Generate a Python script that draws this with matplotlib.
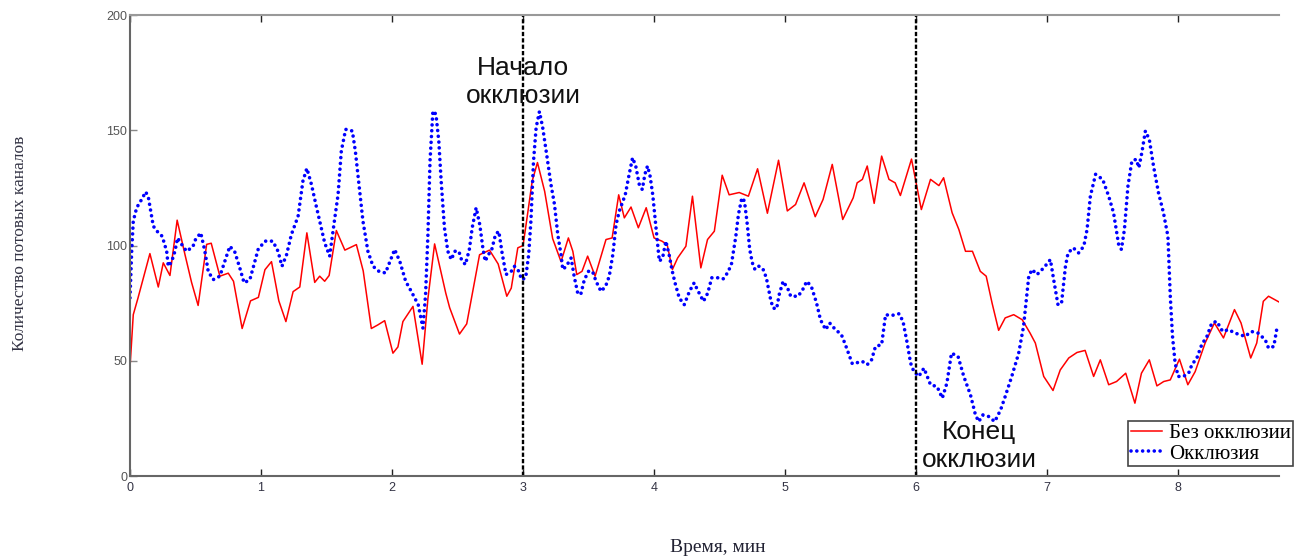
import matplotlib
matplotlib.use('Agg')
import matplotlib.pyplot as plt

# Время (мин) и количество потовых каналов
t_red = [0.0, 0.025, 0.06, 0.152, 0.216, 0.254, 0.305, 0.36, 0.42, 0.47, 0.52, 0.585, 0.62, 0.686, 0.75,
         0.79, 0.856, 0.92, 0.98, 1.03, 1.08, 1.136, 1.19, 1.245, 1.296, 1.35, 1.41, 1.448, 1.486, 1.52,
         1.575, 1.64, 1.728, 1.78, 1.842, 1.89, 1.944, 2.007, 2.045, 2.083, 2.16, 2.23, 2.274, 2.325,
         2.41, 2.44, 2.515, 2.57, 2.668, 2.744, 2.81, 2.876, 2.91, 2.96, 3.0, 3.02, 3.07, 3.11, 3.165,
         3.226, 3.29, 3.346, 3.38, 3.41, 3.45, 3.493, 3.55, 3.633, 3.68, 3.73, 3.773, 3.824, 3.88, 3.94,
         4.0, 4.06, 4.1, 4.14, 4.18, 4.243, 4.293, 4.357, 4.408, 4.46, 4.52, 4.573, 4.65, 4.72, 4.79,
         4.865, 4.95, 5.017, 5.08, 5.145, 5.23, 5.29, 5.36, 5.44, 5.52, 5.55, 5.59, 5.627, 5.68, 5.737,
         5.793, 5.84, 5.88, 5.965, 6.04, 6.11, 6.174, 6.21, 6.275, 6.326, 6.377, 6.43, 6.49, 6.535, 6.58,
         6.63, 6.68, 6.745, 6.81, 6.87, 6.91, 6.974, 7.045, 7.1, 7.165, 7.228, 7.29, 7.355, 7.406, 7.47,
         7.53, 7.6, 7.67, 7.72, 7.78, 7.838, 7.89, 7.94, 8.01, 8.074, 8.13, 8.206, 8.277, 8.346, 8.43,
         8.48, 8.554, 8.6, 8.65, 8.69, 8.77]
no_occlusion = [47, 70, 77, 96.5, 82, 92.5, 87, 111, 96, 84, 74, 100.5, 101, 86.7, 88,
                84.5, 64, 76, 77.5, 89.5, 93, 76, 67, 80, 82, 105.5, 84, 86.7, 84.5, 87,
                106.5, 98, 100.4, 89, 64, 65.5, 67.4, 53.3, 56, 67, 73.6, 48.5, 77, 100.7,
                79.4, 73, 61.6, 66, 96, 98, 92, 78, 81.5, 99, 100, 107.8, 128, 136, 123.5,
                103, 93, 103.3, 97.5, 87.4, 88.8, 95.4, 86.7, 102.6, 103.3, 122, 112, 116.7, 107.7, 116.4,
                103.3, 101.9, 100.4, 89.6, 94.6, 99.7, 121.4, 90.3, 102.6, 106.2, 130.5, 122, 123, 121.4, 133.3,
                114, 137, 115, 117.8, 127.2, 112.5, 120, 135.2, 111.3, 120.7, 127.2, 128.7, 134.5, 118.3, 138.8,
                128.7, 127.2, 121.7, 137.5, 115.6, 128.7, 126, 129.4, 114.2, 107, 97.5, 97.5, 88.8, 86.7, 75,
                63.2, 68.6, 70, 67.8, 62, 57.7, 43.2, 37.1, 46, 51.2, 53.6, 54.5, 43.2, 50.4, 39.6,
                41, 44.6, 31.6, 44.6, 50.4, 39.1, 41, 41.7, 50.7, 39.6, 45.3, 57.7, 66.4, 59.9, 72.2,
                66.4, 51.2, 57.7, 75.8, 78, 75.5]

t_blue = [0.0, 0.013, 0.025, 0.051, 0.089, 0.12, 0.14, 0.178, 0.21, 0.246, 0.28, 0.292, 0.318, 0.343,
          0.363, 0.4, 0.432, 0.48, 0.5, 0.54, 0.57, 0.597, 0.635, 0.686, 0.724, 0.762, 0.8, 0.838,
          0.871, 0.915, 0.978, 1.03, 1.09, 1.13, 1.16, 1.195, 1.232, 1.283, 1.32, 1.35, 1.385, 1.42,
          1.46, 1.486, 1.524, 1.56, 1.588, 1.613, 1.646, 1.697, 1.72, 1.753, 1.778, 1.816, 1.855, 1.9,
          1.95, 1.98, 2.02, 2.06, 2.104, 2.147, 2.2, 2.236, 2.256, 2.274, 2.29, 2.312, 2.335, 2.357,
          2.375, 2.4, 2.426, 2.452, 2.48, 2.51, 2.53, 2.56, 2.59, 2.612, 2.642, 2.67, 2.693, 2.711,
          2.735, 2.76, 2.79, 2.815, 2.84, 2.87, 2.91, 2.934, 2.965, 2.99, 3.02, 3.043, 3.06, 3.08, 3.1,
          3.125, 3.15, 3.18, 3.213, 3.24, 3.265, 3.29, 3.303, 3.33, 3.367, 3.39, 3.417, 3.44, 3.468,
          3.5, 3.53, 3.557, 3.595, 3.63, 3.658, 3.685, 3.71, 3.735, 3.78, 3.81, 3.836, 3.86, 3.887,
          3.91, 3.93, 3.95, 3.97, 3.99, 4.015, 4.04, 4.065, 4.09, 4.115, 4.136, 4.16, 4.192, 4.23,
          4.27, 4.306, 4.33, 4.377, 4.41, 4.44, 4.49, 4.527, 4.56, 4.59, 4.624, 4.644, 4.67, 4.69,
          4.713, 4.73, 4.75, 4.77, 4.8, 4.83, 4.857, 4.89, 4.908, 4.935, 4.955, 4.985, 5.02, 5.043,
          5.1, 5.14, 5.165, 5.2, 5.24, 5.27, 5.31, 5.34, 5.38, 5.43, 5.46, 5.513, 5.59, 5.627, 5.66,
          5.69, 5.737, 5.767, 5.81, 5.87, 5.9, 5.932, 5.958, 5.983, 6.02, 6.06, 6.11, 6.16, 6.2,
          6.235, 6.27, 6.32, 6.364, 6.415, 6.453, 6.478, 6.51, 6.555, 6.6, 6.645, 6.68, 6.73, 6.783,
          6.82, 6.86, 6.885, 6.923, 6.974, 7.025, 7.05, 7.083, 7.11, 7.14, 7.16, 7.2, 7.24, 7.28,
          7.305, 7.33, 7.37, 7.424, 7.47, 7.507, 7.546, 7.567, 7.59, 7.617, 7.647, 7.68, 7.7, 7.723,
          7.75, 7.78, 7.812, 7.85, 7.888, 7.922, 7.94, 7.957, 7.977, 8.0, 8.04, 8.08, 8.105, 8.143,
          8.18, 8.22, 8.257, 8.295, 8.34, 8.384, 8.435, 8.51, 8.56, 8.61, 8.665, 8.69, 8.73, 8.752]
occlusion = [77.3, 97.5, 110.6, 116.4, 120, 123.3, 121, 108.4, 106, 104, 97.5, 91, 93, 97.5,
             103.3, 100, 97.5, 99.5, 102.6, 105.5, 98, 88.8, 85.2, 86.7, 93.2, 99.7, 97.2, 90.3,
             83.8, 85.2, 98.3, 101.9, 101.9, 97.5, 91, 96, 104.8, 112.7, 128, 133.5, 126.5, 117.5,
             107.7, 101.2, 95.4, 110.6, 122, 141, 150.4, 149.7, 141, 123.6, 110.6, 97.5, 91, 88.8,
             88.1, 92.5, 98.3, 93, 84.5, 80.1, 74.3, 64.2, 78.7, 104.8, 136.7, 158.4, 157, 145.3,
             128, 107.7, 97.5, 93.9, 97.5, 97.5, 93.9, 91.7, 98.3, 107.7, 116.4, 109, 99, 93.2,
             96, 98, 104.8, 106.2, 96.8, 87.4, 88.8, 91, 89, 85.2, 86, 96, 110.6, 136.7, 151.2,
             158.1, 151.2, 139.6, 126.5, 117.8, 104.8, 96, 89.6, 91, 94.6, 86.7, 79.4, 78.7, 85.2,
             88.8, 88.8, 84.5, 80.1, 82.3, 86.7, 96, 109.1, 115, 122, 130.9, 138.1, 134.5, 126.5,
             124.3, 130.9, 134.5, 130, 122, 107.7, 93.2, 94.6, 101.9, 96, 89.6, 83.8, 77.3, 74.3,
             80.1, 83.8, 80.9, 75.8, 79.4, 86, 86, 85.5, 88.1, 91.7, 104, 113.5, 120.7, 119.3,
             108.4, 98.3, 92.5, 89.6, 91, 90, 86, 76.5, 72.9, 72.5, 78.7, 84.5, 81.4, 78,
             78, 81.4, 84.5, 82.3, 75.1, 67.8, 63.5, 66.4, 63.8, 61.3, 57, 48.7, 49.7, 48.3, 50.4,
             56.2, 57, 70, 69.6, 70.4, 67.1, 57.7, 49, 45.3, 43.2, 46.8, 39.6, 38.8, 33.8,
             40.3, 53.3, 51.9, 43.2, 35.2, 26.5, 23.6, 26.5, 25.8, 23.6, 28.7, 34.5, 43.2, 53.3,
             64.9, 86.7, 89.6, 87.4, 90.3, 93.9, 85.2, 74.3, 75, 91, 96.8, 99, 96.8, 99.7,
             107, 121.4, 130.9, 128.7, 121.4, 114.2, 100.4, 98.3, 107, 125.8, 136.7, 137.4, 133.8, 140.3,
             149.7, 146, 134.5, 122.9, 114.2, 104, 78, 60.6, 49, 43.2, 43.2, 44.6, 48.3, 51.2,
             57, 60.6, 66.4, 67.1, 62.7, 63.5, 62, 60.6, 62.7, 62, 59.1, 55.5, 56.2, 63.5]

x_ticks = [0, 1, 2, 3, 4, 5, 6, 7, 8]
y_ticks = [0, 50, 100, 150, 200]
events = [3, 6]

fig = plt.figure(figsize=(12.96, 5.57), dpi=100)
ax = fig.add_axes([0.1003, 0.1454, 0.8866, 0.8276])

# кривые
ax.plot(t_red, no_occlusion, color='red', lw=1.1, label='Без окклюзии')
ax.plot(t_blue, occlusion, color='blue', lw=2.6, linestyle=(0, (0.01, 1.6)),
        dash_capstyle='round', label='Окклюзия')

# начало и конец окклюзии
for xv in events:
    ax.axvline(xv, color='black', lw=1.7, dashes=(1.8, 0.9))

ax.text(3.0, 171, 'Начало\nокклюзии', ha='center', va='center', fontsize=19,
        family='Liberation Sans', color='#111111', linespacing=1.2)
ax.text(6.48, 13, 'Конец\nокклюзии', ha='center', va='center', fontsize=19,
        family='Liberation Sans', color='#111111', linespacing=1.2)

ax.set_xlim(0, 8.77)
ax.set_ylim(0, 200)
ax.set_xticks(x_ticks)
ax.set_yticks(y_ticks)

ax.spines['right'].set_visible(False)
for s in ['left', 'bottom', 'top']:
    ax.spines[s].set_linewidth(1.5)
ax.spines['left'].set_color('#666666')
ax.spines['bottom'].set_color('#666666')
ax.spines['top'].set_color('#999999')

ax.tick_params(axis='x', direction='in', length=5, width=1, color='#222222',
               top=True, labelsize=9, labelcolor='#333344', pad=4)
ax.tick_params(axis='y', direction='in', length=5, width=1, color='#888888',
               labelsize=9, labelcolor='#555555', pad=2)
for lab in ax.get_xticklabels() + ax.get_yticklabels():
    lab.set_family('Liberation Sans')

fig.text(20 / 1296, 1 - 243 / 557, 'Количество потовых каналов', rotation=90,
         ha='center', va='center', fontsize=12.5, family='Liberation Serif', color='#333344')
fig.text(718 / 1296, 1 - 547 / 557, 'Время, мин', ha='center', va='center',
         fontsize=14, family='Liberation Serif', color='#222233')

leg = ax.legend(loc='upper left', bbox_to_anchor=(1128 / 1296, 1 - 421 / 557),
                bbox_transform=fig.transFigure, borderaxespad=0, fancybox=False,
                framealpha=1, edgecolor='#444444', prop={'family': 'Liberation Serif', 'size': 15},
                handlelength=1.5, handletextpad=0.35, borderpad=0.12, labelspacing=0.05)
leg.get_frame().set_linewidth(1.2)

fig.savefig('out.png', dpi=100)
